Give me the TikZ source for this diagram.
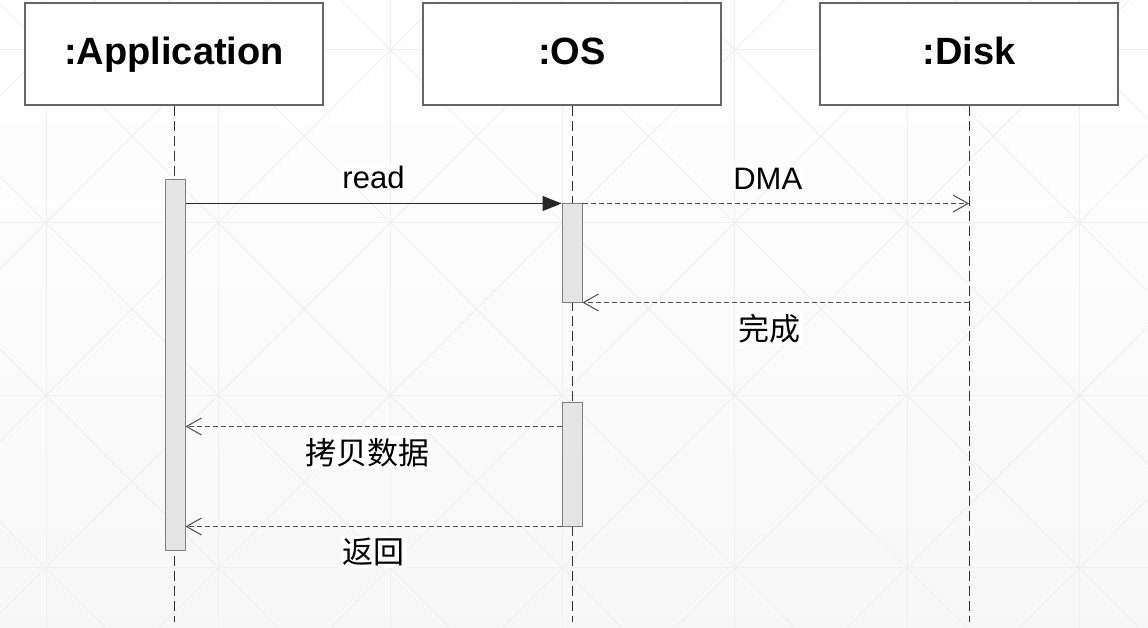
\documentclass[tikz,border=0pt]{standalone}
\usepackage{fontspec}
\setmainfont{Liberation Sans}
\newfontfamily\cjk{Noto Sans CJK SC}
\usetikzlibrary{arrows.meta}

\begin{document}
\begin{tikzpicture}[x=1pt, y=-1pt,
  head/.style={draw=black!60, line width=1.3pt, fill=white, minimum width=298pt, minimum height=102pt, text height=26pt, text depth=4pt, font=\fontsize{38}{42}\selectfont\bfseries},
  life/.style={draw=black!80, line width=1pt, dash pattern=on 10pt off 5pt},
  act/.style={draw=black!50, line width=1pt, fill=black!10, minimum width=20pt, inner sep=0pt},
  sync/.style={draw=black!85, line width=1pt, -{Triangle[length=19pt,width=15pt]}},
  reply/.style={draw=black!70, line width=1pt, dash pattern=on 5pt off 3pt, -{Straight Barb[length=15pt,width=17pt,line width=1pt]}},
  msg/.style={fill=white, inner sep=2pt, font=\fontsize{31}{36}\selectfont},
  grid line/.style={draw=black!6, line width=1pt}]
\useasboundingbox (0,0) rectangle (1148,628);

% background
\fill[top color=white, bottom color=black!3] (0,0) rectangle (1148,628);
\begin{scope}
\clip (0,0) rectangle (1148,628);
\foreach \i in {0,...,8} \draw[grid line] (-126.2+172.2*\i,0) -- (-126.2+172.2*\i,628);
\foreach \j in {0,...,4} \draw[grid line] (0,-122.6+172.6*\j) -- (1148,-122.6+172.6*\j);
\foreach \i in {0,...,7} \foreach \j in {0,...,4} {
  \draw[grid line] (-126.2+172.2*\i,-122.6+172.6*\j) -- (46+172.2*\i,50+172.6*\j);
  \draw[grid line] (46+172.2*\i,-122.6+172.6*\j) -- (-126.2+172.2*\i,50+172.6*\j);
}
\end{scope}

% lifelines
\node[head] (app) at (174,54) {:Application};
\node[head] (os) at (572,54) {:OS};
\node[head] (disk) at (969,54) {:Disk};
\coordinate (append) at (app.south |- 0,622);
\coordinate (osend) at (os.south |- 0,622);
\coordinate (diskend) at (disk.south |- 0,622);
\draw[life] (app.south) -- (append);
\draw[life] (os.south) -- (osend);
\draw[life] (disk.south) -- (diskend);

% activations
\node[act, minimum height=370pt] (appact) at (175,365) {};
\node[act, minimum height=98pt] (osact1) at (572,253) {};
\node[act, minimum height=124pt] (osact2) at (572,464) {};

% messages
\draw[sync] (appact.east |- osact1.north) -- (osact1.north west)
  node[msg, midway, anchor=base, yshift=15pt] {read};
\draw[reply] (osact1.north east) -- (disk.south |- osact1.north)
  node[msg, midway, anchor=base, yshift=14pt, xshift=-8pt] {DMA};
\draw[reply] (disk.south |- osact1.south) -- (osact1.south east)
  node[msg, midway, yshift=-26pt, xshift=-6pt] {\cjk 完成};
\coordinate (copy) at ([yshift=-25pt]osact2.north west);
\draw[reply] (copy) -- (appact.east |- copy)
  node[msg, midway, yshift=-26pt, xshift=-6pt] {\cjk 拷贝数据};
\draw[reply] (osact2.south west) -- (appact.east |- osact2.south)
  node[msg, midway, yshift=-25pt] {\cjk 返回};
\end{tikzpicture}
\end{document}
